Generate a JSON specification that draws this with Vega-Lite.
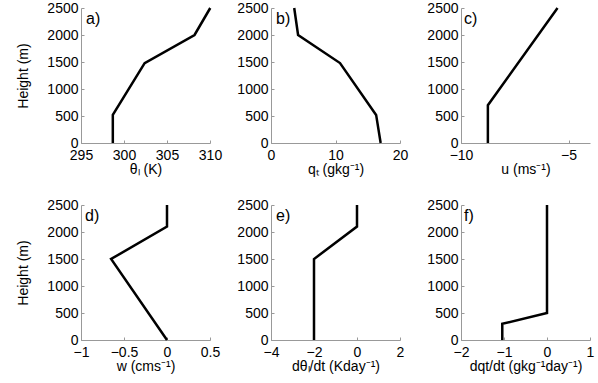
{
  "$schema": "https://vega.github.io/schema/vega-lite/v6.json",
  "background": "white",
  "padding": {"left": 16, "top": 1, "right": 5, "bottom": 5},
  "columns": 3,
  "spacing": {"row": 62, "column": 61},
  "bounds": "flush",
  "config": {
    "view": {"stroke": null},
    "font": "Liberation Sans",
    "axis": {
      "grid": false,
      "domainColor": "#999999",
      "tickColor": "#999999",
      "tickSize": -3,
      "labelFont": "Liberation Sans",
      "labelFontSize": 14,
      "labelColor": "black",
      "labelFlush": false,
      "labelOverlap": false,
      "titleFont": "Liberation Sans",
      "titleFontSize": 14,
      "titleFontWeight": "normal",
      "titleColor": "black"
    },
    "axisX": {"labelPadding": 8, "titlePadding": 0},
    "axisY": {"labelPadding": 6, "titlePadding": 16}
  },
  "datasets": {
    "profiles": [
      {"panel": "a", "h": 0, "v": 298.7},
      {"panel": "a", "h": 520, "v": 298.7},
      {"panel": "a", "h": 1480, "v": 302.4},
      {"panel": "a", "h": 2000, "v": 308.2},
      {"panel": "a", "h": 2500, "v": 310.03},
      {"panel": "b", "h": 0, "v": 17.0},
      {"panel": "b", "h": 520, "v": 16.3},
      {"panel": "b", "h": 1480, "v": 10.7},
      {"panel": "b", "h": 2000, "v": 4.2},
      {"panel": "b", "h": 2500, "v": 3.6},
      {"panel": "c", "h": 0, "v": -8.75},
      {"panel": "c", "h": 700, "v": -8.75},
      {"panel": "c", "h": 2500, "v": -5.51},
      {"panel": "d", "h": 0, "v": 0},
      {"panel": "d", "h": 1500, "v": -0.65},
      {"panel": "d", "h": 2100, "v": 0},
      {"panel": "d", "h": 2500, "v": 0},
      {"panel": "e", "h": 0, "v": -2.0},
      {"panel": "e", "h": 1500, "v": -2.0},
      {"panel": "e", "h": 2100, "v": 0},
      {"panel": "e", "h": 2500, "v": 0},
      {"panel": "f", "h": 0, "v": -1.04},
      {"panel": "f", "h": 300, "v": -1.04},
      {"panel": "f", "h": 500, "v": 0},
      {"panel": "f", "h": 2500, "v": 0}
    ]
  },
  "concat": [
    {
      "width": 129, "height": 135,
      "layer": [
        {
          "data": {"name": "profiles"},
          "transform": [{"filter": "datum.panel === 'a'"}],
          "mark": {"type": "line", "color": "black", "strokeWidth": 2.5},
          "encoding": {
            "x": {"field": "v", "type": "quantitative", "scale": {"domain": [295, 310], "nice": false, "zero": false}, "axis": {"values": [295, 300, 305, 310], "tickCount": 10, "format": "d", "labelOverlap": false, "labelFlush": false, "title": "θₗ (K)"}},
            "y": {"field": "h", "type": "quantitative", "scale": {"domain": [0, 2500], "nice": false}, "axis": {"values": [0, 500, 1000, 1500, 2000, 2500], "tickCount": 10, "format": "d", "labelOverlap": false, "title": "Height (m)"}},
            "order": {"field": "h", "type": "quantitative"}
          }
        },
        {
          "data": {"values": [{}]},
          "mark": {"type": "text", "align": "left", "baseline": "top", "dx": 5, "dy": 3, "fontSize": 16, "font": "Liberation Sans", "color": "black"},
          "encoding": {"x": {"datum": 295}, "y": {"datum": 2500}, "text": {"value": "a)"}}
        }
      ]
    },
    {
      "width": 129, "height": 135,
      "layer": [
        {
          "data": {"name": "profiles"},
          "transform": [{"filter": "datum.panel === 'b'"}],
          "mark": {"type": "line", "color": "black", "strokeWidth": 2.5},
          "encoding": {
            "x": {"field": "v", "type": "quantitative", "scale": {"domain": [0, 20], "nice": false, "zero": false}, "axis": {"values": [0, 10, 20], "tickCount": 10, "format": "d", "labelOverlap": false, "labelFlush": false, "title": "qₜ (gkg⁻¹)"}},
            "y": {"field": "h", "type": "quantitative", "scale": {"domain": [0, 2500], "nice": false}, "axis": {"values": [0, 500, 1000, 1500, 2000, 2500], "tickCount": 10, "format": "d", "labelOverlap": false, "title": null}},
            "order": {"field": "h", "type": "quantitative"}
          }
        },
        {
          "data": {"values": [{}]},
          "mark": {"type": "text", "align": "left", "baseline": "top", "dx": 5, "dy": 3, "fontSize": 16, "font": "Liberation Sans", "color": "black"},
          "encoding": {"x": {"datum": 0}, "y": {"datum": 2500}, "text": {"value": "b)"}}
        }
      ]
    },
    {
      "width": 129, "height": 135,
      "layer": [
        {
          "data": {"name": "profiles"},
          "transform": [{"filter": "datum.panel === 'c'"}],
          "mark": {"type": "line", "color": "black", "strokeWidth": 2.5},
          "encoding": {
            "x": {"field": "v", "type": "quantitative", "scale": {"domain": [-10, -4], "nice": false, "zero": false}, "axis": {"values": [-10, -5], "tickCount": 10, "format": "d", "labelOverlap": false, "labelFlush": false, "title": "u (ms⁻¹)"}},
            "y": {"field": "h", "type": "quantitative", "scale": {"domain": [0, 2500], "nice": false}, "axis": {"values": [0, 500, 1000, 1500, 2000, 2500], "tickCount": 10, "format": "d", "labelOverlap": false, "title": null}},
            "order": {"field": "h", "type": "quantitative"}
          }
        },
        {
          "data": {"values": [{}]},
          "mark": {"type": "text", "align": "left", "baseline": "top", "dx": 3, "dy": 3, "fontSize": 16, "font": "Liberation Sans", "color": "black"},
          "encoding": {"x": {"datum": -10}, "y": {"datum": 2500}, "text": {"value": "c)"}}
        }
      ]
    },
    {
      "width": 129, "height": 135,
      "layer": [
        {
          "data": {"name": "profiles"},
          "transform": [{"filter": "datum.panel === 'd'"}],
          "mark": {"type": "line", "color": "black", "strokeWidth": 2.5},
          "encoding": {
            "x": {"field": "v", "type": "quantitative", "scale": {"domain": [-1, 0.5], "nice": false, "zero": false}, "axis": {"values": [-1, -0.5, 0, 0.5], "tickCount": 10, "format": "~g", "labelOverlap": false, "labelFlush": false, "title": "w (cms⁻¹)"}},
            "y": {"field": "h", "type": "quantitative", "scale": {"domain": [0, 2500], "nice": false}, "axis": {"values": [0, 500, 1000, 1500, 2000, 2500], "tickCount": 10, "format": "d", "labelOverlap": false, "title": "Height (m)"}},
            "order": {"field": "h", "type": "quantitative"}
          }
        },
        {
          "data": {"values": [{}]},
          "mark": {"type": "text", "align": "left", "baseline": "top", "dx": 4, "dy": 3, "fontSize": 16, "font": "Liberation Sans", "color": "black"},
          "encoding": {"x": {"datum": -1}, "y": {"datum": 2500}, "text": {"value": "d)"}}
        }
      ]
    },
    {
      "width": 129, "height": 135,
      "layer": [
        {
          "data": {"name": "profiles"},
          "transform": [{"filter": "datum.panel === 'e'"}],
          "mark": {"type": "line", "color": "black", "strokeWidth": 2.5},
          "encoding": {
            "x": {"field": "v", "type": "quantitative", "scale": {"domain": [-4, 2], "nice": false, "zero": false}, "axis": {"values": [-4, -2, 0, 2], "tickCount": 10, "format": "d", "labelOverlap": false, "labelFlush": false, "title": "dθₗ/dt (Kday⁻¹)"}},
            "y": {"field": "h", "type": "quantitative", "scale": {"domain": [0, 2500], "nice": false}, "axis": {"values": [0, 500, 1000, 1500, 2000, 2500], "tickCount": 10, "format": "d", "labelOverlap": false, "title": null}},
            "order": {"field": "h", "type": "quantitative"}
          }
        },
        {
          "data": {"values": [{}]},
          "mark": {"type": "text", "align": "left", "baseline": "top", "dx": 5, "dy": 3, "fontSize": 16, "font": "Liberation Sans", "color": "black"},
          "encoding": {"x": {"datum": -4}, "y": {"datum": 2500}, "text": {"value": "e)"}}
        }
      ]
    },
    {
      "width": 129, "height": 135,
      "layer": [
        {
          "data": {"name": "profiles"},
          "transform": [{"filter": "datum.panel === 'f'"}],
          "mark": {"type": "line", "color": "black", "strokeWidth": 2.5},
          "encoding": {
            "x": {"field": "v", "type": "quantitative", "scale": {"domain": [-2, 1], "nice": false, "zero": false}, "axis": {"values": [-2, -1, 0, 1], "tickCount": 10, "format": "d", "labelOverlap": false, "labelFlush": false, "title": "dqt/dt (gkg⁻¹day⁻¹)"}},
            "y": {"field": "h", "type": "quantitative", "scale": {"domain": [0, 2500], "nice": false}, "axis": {"values": [0, 500, 1000, 1500, 2000, 2500], "tickCount": 10, "format": "d", "labelOverlap": false, "title": null}},
            "order": {"field": "h", "type": "quantitative"}
          }
        },
        {
          "data": {"values": [{}]},
          "mark": {"type": "text", "align": "left", "baseline": "top", "dx": 3, "dy": 3, "fontSize": 16, "font": "Liberation Sans", "color": "black"},
          "encoding": {"x": {"datum": -2}, "y": {"datum": 2500}, "text": {"value": "f)"}}
        }
      ]
    }
  ]
}
